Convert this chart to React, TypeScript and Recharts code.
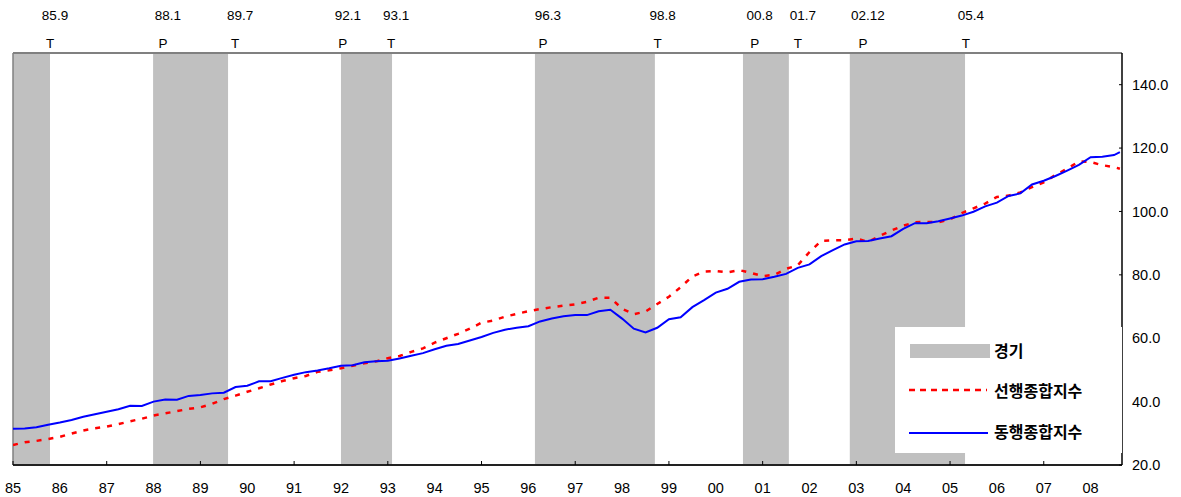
import { ComposedChart, Legend, Line, ReferenceArea, ReferenceLine, XAxis, YAxis } from "recharts";

// quarterly readings, Jan 1985 .. Aug 2008
const periods = [
  1985, 1985.25, 1985.5, 1985.75, 1986, 1986.25, 1986.5, 1986.75,
  1987, 1987.25, 1987.5, 1987.75, 1988, 1988.25, 1988.5, 1988.75,
  1989, 1989.25, 1989.5, 1989.75, 1990, 1990.25, 1990.5, 1990.75,
  1991, 1991.25, 1991.5, 1991.75, 1992, 1992.25, 1992.5, 1992.75,
  1993, 1993.25, 1993.5, 1993.75, 1994, 1994.25, 1994.5, 1994.75,
  1995, 1995.25, 1995.5, 1995.75, 1996, 1996.25, 1996.5, 1996.75,
  1997, 1997.25, 1997.5, 1997.75, 1998, 1998.25, 1998.5, 1998.75,
  1999, 1999.25, 1999.5, 1999.75, 2000, 2000.25, 2000.5, 2000.75,
  2001, 2001.25, 2001.5, 2001.75, 2002, 2002.25, 2002.5, 2002.75,
  2003, 2003.25, 2003.5, 2003.75, 2004, 2004.25, 2004.5, 2004.75,
  2005, 2005.25, 2005.5, 2005.75, 2006, 2006.25, 2006.5, 2006.75,
  2007, 2007.25, 2007.5, 2007.75, 2008, 2008.25, 2008.5, 2008.625,
];

// 선행종합지수
const leading = [
  26.3, 27.2, 27.6, 28.2, 28.9, 29.9, 30.9, 31.6,
  32.1, 32.9, 33.8, 34.6, 35.6, 36.3, 37.0, 37.7,
  38.2, 39.3, 40.8, 41.9, 43.1, 44.2, 45.4, 46.5,
  47.4, 48.1, 49.4, 49.9, 50.5, 51.3, 52.1, 52.7,
  53.7, 54.4, 55.7, 56.8, 58.6, 60.0, 61.4, 63.0,
  64.9, 65.6, 66.8, 67.7, 68.5, 69.2, 69.8, 70.3,
  70.7, 71.5, 72.8, 72.8, 69.3, 67.6, 68.4, 70.8,
  73.1, 76.1, 79.5, 81.0, 81.2, 80.8, 81.5, 80.6,
  79.6, 80.0, 81.9, 83.0, 87.2, 90.7, 90.9, 90.9,
  91.5, 90.4, 92.3, 94.0, 95.5, 96.6, 96.7, 96.6,
  97.5, 99.5, 101.0, 102.5, 104.6, 105.0, 106.0, 107.7,
  109.2, 111.5, 113.5, 115.8, 115.6, 114.6, 114.0, 113.5,
];

// 동행종합지수
const coincident = [
  31.4, 31.5, 31.9, 32.7, 33.4, 34.2, 35.2, 36.0,
  36.8, 37.6, 38.7, 38.6, 40.0, 40.7, 40.6, 41.8,
  42.1, 42.6, 42.8, 44.6, 45.0, 46.4, 46.4, 47.5,
  48.5, 49.3, 49.8, 50.5, 51.3, 51.5, 52.4, 52.7,
  52.9, 53.6, 54.5, 55.3, 56.5, 57.6, 58.2, 59.3,
  60.4, 61.7, 62.7, 63.3, 63.8, 65.3, 66.2, 66.9,
  67.3, 67.3, 68.5, 69.0, 66.2, 63.0, 61.8, 63.3,
  66.0, 66.6, 69.8, 72.0, 74.4, 75.6, 77.8, 78.5,
  78.6, 79.4, 80.3, 82.2, 83.3, 85.9, 87.8, 89.6,
  90.6, 90.7, 91.5, 92.2, 94.5, 96.3, 96.3, 96.9,
  97.8, 98.7, 99.9, 101.6, 102.8, 104.9, 105.7, 108.5,
  109.7, 111.2, 112.9, 114.7, 117.1, 117.3, 117.8, 118.7,
];

// 경기 수축기 (P -> T)
const recessionStart = [1985, 1987.99, 1992.0, 1996.14, 2000.58, 2002.86];
const recessionEnd = [1985.79, 1989.59, 1993.09, 1998.7, 2001.56, 2005.32];

// turning points printed above the chart
const turnPos = [1985.79, 1988.2, 1989.74, 1992.04, 1993.07, 1996.31, 1998.76, 2000.83, 2001.75, 2003.14, 2005.34];
const turnDate = ["85.9", "88.1", "89.7", "92.1", "93.1", "96.3", "98.8", "00.8", "01.7", "02.12", "05.4"];
const turnType = ["T", "P", "T", "P", "T", "P", "T", "P", "T", "P", "T"];

const yearTicks = [
  1985, 1986, 1987, 1988, 1989, 1990, 1991, 1992, 1993, 1994, 1995, 1996,
  1997, 1998, 1999, 2000, 2001, 2002, 2003, 2004, 2005, 2006, 2007, 2008,
];
const yearLabels = [
  "85", "86", "87", "88", "89", "90", "91", "92", "93", "94", "95", "96",
  "97", "98", "99", "00", "01", "02", "03", "04", "05", "06", "07", "08",
];
const valueTicks = [20, 40, 60, 80, 100, 120, 140];

const rows = periods.map((p, i) => ({ t: p, lead: leading[i], coin: coincident[i] }));

const X_DOMAIN: [number, number] = [1985, 2008.67];
const FONT = "'Liberation Sans', Arial, sans-serif";
const KFONT = "'Noto Sans CJK KR', 'Noto Sans', sans-serif";

function YearTick(props: any) {
  const { x, y, index } = props;
  const axisY = y - 18;
  return (
    <g>
      {index % 2 === 0 && <line x1={x} x2={x} y1={axisY} y2={axisY - 4} stroke="#000" strokeWidth={1} />}
      <text x={x} y={y} dy="0.71em" textAnchor="middle" fontSize={14.5} fontFamily={FONT} fill="#000">
        {yearLabels[index]}
      </text>
    </g>
  );
}

function ValueTick(props: any) {
  const { x, y, payload } = props;
  const axisX = x - 10;
  return (
    <g>
      <line x1={axisX - 3} x2={axisX} y1={y} y2={y} stroke="#000" strokeWidth={1} />
      <text x={x} y={y} dy="0.35em" textAnchor="start" fontSize={14.5} fontFamily={FONT} fill="#000">
        {Number(payload.value).toFixed(1)}
      </text>
    </g>
  );
}

function TurnLabel(props: any) {
  const { viewBox, idx } = props;
  const x = viewBox ? viewBox.x : 0;
  return (
    <g>
      <text x={x + 5} y={20} textAnchor="middle" fontSize={13.5} fontFamily={FONT} fill="#000">
        {turnDate[idx]}
      </text>
      <text x={x} y={48} textAnchor="middle" fontSize={13.5} fontFamily={FONT} fill="#000">
        {turnType[idx]}
      </text>
    </g>
  );
}

function LegendBox() {
  return (
    <div style={{ width: 227, height: 126, background: "#fff" }}>
      <svg width={227} height={126}>
        <rect x={15} y={17} width={80} height={14} fill="#C0C0C0" />
        <text x={99} y={24} dy="0.35em" fontSize={16} fontWeight="bold" fontFamily={KFONT} fill="#000">경기</text>
        <line x1={14} x2={92} y1={63} y2={63} stroke="#FF0000" strokeWidth={2.5} strokeDasharray="6 5" />
        <text x={99} y={64} dy="0.35em" fontSize={16} fontWeight="bold" fontFamily={KFONT} fill="#000">선행종합지수</text>
        <line x1={14} x2={93} y1={106} y2={106} stroke="#0000FF" strokeWidth={2} />
        <text x={99} y={105} dy="0.35em" fontSize={16} fontWeight="bold" fontFamily={KFONT} fill="#000">동행종합지수</text>
      </svg>
    </div>
  );
}

export default function App() {
  return (
    <div style={{ position: "fixed", left: 0, top: 0, width: 1181, height: 497, background: "#fff" }}>
      <ComposedChart width={1181} height={497} data={rows} margin={{ top: 13, right: 9, bottom: 7, left: 13 }}>
        {recessionStart.map((s, i) => (
          <ReferenceArea key={i} x1={s} x2={recessionEnd[i]} fill="#C0C0C0" fillOpacity={1} stroke="none" ifOverflow="hidden" />
        ))}
        <XAxis
          dataKey="t"
          type="number"
          domain={X_DOMAIN}
          allowDataOverflow
          ticks={yearTicks}
          interval={0}
          height={25}
          tickSize={0}
          tickMargin={18}
          tick={<YearTick />}
          axisLine={{ stroke: "#222", strokeWidth: 2 }}
        />
        <XAxis
          xAxisId="top"
          dataKey="t"
          orientation="top"
          type="number"
          domain={X_DOMAIN}
          allowDataOverflow
          height={40}
          tick={false}
          tickLine={false}
          axisLine={{ stroke: "#808080", strokeWidth: 2 }}
        />
        <YAxis
          orientation="right"
          domain={[20, 150]}
          ticks={valueTicks}
          interval={0}
          width={50}
          tickSize={0}
          tickMargin={10}
          tick={<ValueTick />}
          axisLine={{ stroke: "#000", strokeWidth: 1.5 }}
        />
        <ReferenceLine x={1985} stroke="#808080" strokeWidth={1.5} />
        {turnPos.map((p, i) => (
          <ReferenceLine key={"tp" + i} x={p} stroke="none" label={<TurnLabel idx={i} />} />
        ))}
        <Line
          dataKey="lead"
          type="linear"
          stroke="#FF0000"
          strokeWidth={2.5}
          strokeDasharray="5 7"
          dot={false}
          isAnimationActive={false}
        />
        <Line
          dataKey="coin"
          type="linear"
          stroke="#0000FF"
          strokeWidth={2}
          dot={false}
          isAnimationActive={false}
        />
        <Legend
          layout="horizontal"
          verticalAlign="middle"
          align="center"
          content={() => <LegendBox />}
          wrapperStyle={{ position: "absolute", left: 895, top: 327, width: 227, height: 126, margin: 0 }}
        />
      </ComposedChart>
    </div>
  );
}
